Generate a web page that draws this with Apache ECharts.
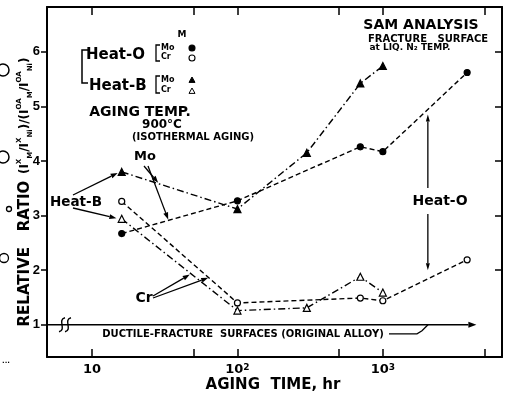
<!DOCTYPE html>
<html>
<head>
<meta charset="utf-8" />
<script src="https://cdn.jsdelivr.net/npm/echarts@6/dist/echarts.min.js"></script>
<style>
  html, body { margin: 0; padding: 0; background: #fff; }
  #chart { width: 506px; height: 394px; }
</style>
</head>
<body>
<div id="chart"></div>
<script>
// 时效时间 (hr)
const hoursHeatO = [16, 100, 700, 1000, 3800]
const hoursHeatB = [16, 100, 300, 700, 1000]
// 相对比值 (SAM)
const moHeatO = [2.67, 3.27, 4.26, 4.17, 5.62]
const crHeatO = [3.26, 1.40, 1.49, 1.44, 2.19]
const moHeatB = [3.80, 3.12, 4.15, 5.42, 5.74]
const crHeatB = [2.94, 1.26, 1.31, 1.88, 1.59]
// 坐标轴刻度
const xTickHours = [10, 50, 100, 500, 1000, 5000]
const xLabelHours = [10, 100, 1000]
const yTicks = [1, 2, 3, 4, 5, 6]
const yTicksRight = [2, 3, 4, 5, 6]
const xRange = [4.9, 6600]
const yRange = [0.41, 6.82]
const ductileLevel = 1

const FONT = 'DejaVu Sans'
const log = Math.log10
const DASH = [5, 3]
const DASH_DOT = [7, 3, 1.5, 3]

const chart = echarts.init(document.getElementById('chart'))

const toPts = (hours, vals) => hours.map((h, i) => [log(h), vals[i]])

function makeSeries(name, hours, vals, symbol, filled, dash) {
  return {
    name,
    type: 'line',
    data: toPts(hours, vals),
    symbol,
    symbolSize: symbol === 'triangle' ? 7 : 6,
    lineStyle: { color: '#000', width: 1.4, type: dash },
    itemStyle: { color: filled ? '#000' : '#fff', borderColor: '#000', borderWidth: 1.2 },
    z: 3,
  }
}

const frameLine = { show: true, onZero: false, lineStyle: { color: '#000', width: 2 } }

chart.setOption({
  animation: false,
  backgroundColor: '#fff',
  grid: { left: 47, right: 4, top: 7, bottom: 37 },
  xAxis: [
    {
      type: 'value',
      position: 'bottom',
      min: log(xRange[0]),
      max: log(xRange[1]),
      axisLine: frameLine,
      axisTick: { show: true, inside: true, length: 8, customValues: xTickHours.map(log), lineStyle: { color: '#000', width: 1.5 } },
      axisLabel: {
        customValues: xLabelHours.map(log),
        formatter: (v) => {
          const e = Math.round(v)
          return e === 1 ? '10' : '10{s|' + e + '}'
        },
        color: '#000',
        fontFamily: FONT,
        fontWeight: 'bold',
        fontSize: 13,
        margin: 6,
        rich: { s: { fontSize: 9, fontWeight: 'bold', fontFamily: FONT, color: '#000', verticalAlign: 'top', lineHeight: 8 } },
      },
      splitLine: { show: false },
    },
    {
      type: 'value',
      position: 'top',
      min: log(xRange[0]),
      max: log(xRange[1]),
      axisLine: frameLine,
      axisTick: { show: true, inside: true, length: 8, customValues: xTickHours.map(log), lineStyle: { color: '#000', width: 1.5 } },
      axisLabel: { show: false },
      splitLine: { show: false },
    },
  ],
  yAxis: [
    {
      type: 'value',
      position: 'left',
      min: yRange[0],
      max: yRange[1],
      axisLine: frameLine,
      axisTick: { show: true, inside: false, length: 6, customValues: yTicks, lineStyle: { color: '#000', width: 1.5 } },
      axisLabel: { customValues: yTicks, color: '#000', fontFamily: 'Liberation Sans', fontWeight: 'bold', fontSize: 13, margin: 7 },
      splitLine: { show: false },
    },
    {
      type: 'value',
      position: 'right',
      min: yRange[0],
      max: yRange[1],
      axisLine: frameLine,
      axisTick: { show: true, inside: true, length: 7, customValues: yTicksRight, lineStyle: { color: '#000', width: 1.5 } },
      axisLabel: { show: false },
      splitLine: { show: false },
    },
  ],
  series: [
    makeSeries('Heat-O Mo', hoursHeatO, moHeatO, 'circle', true, DASH),
    makeSeries('Heat-O Cr', hoursHeatO, crHeatO, 'circle', false, DASH),
    makeSeries('Heat-B Mo', hoursHeatB, moHeatB, 'triangle', true, DASH_DOT),
    makeSeries('Heat-B Cr', hoursHeatB, crHeatB, 'triangle', false, DASH_DOT),
  ],
})

// 数据坐标 -> 像素
const P = (h, r) => chart.convertToPixel({ xAxisIndex: 0, yAxisIndex: 0 }, [log(h), r])

const ink = '#000'
function txt(x, y, text, size, extra) {
  return {
    type: 'text', x, y, silent: true,
    style: Object.assign({ text, fill: ink, fontFamily: FONT, fontWeight: 'bold', fontSize: size, align: 'center', verticalAlign: 'middle' }, extra || {}),
  }
}
function arrow(a, b, head, half, width) {
  head = head || 7
  half = half || 2.5
  const dx = b[0] - a[0], dy = b[1] - a[1]
  const len = Math.hypot(dx, dy)
  const ux = dx / len, uy = dy / len
  const bx = b[0] - ux * head, by = b[1] - uy * head
  return [
    { type: 'line', silent: true, shape: { x1: a[0], y1: a[1], x2: bx, y2: by }, style: { stroke: ink, lineWidth: width || 1.3 } },
    { type: 'polygon', silent: true, shape: { points: [b, [bx - uy * half, by + ux * half], [bx + uy * half, by - ux * half]] }, style: { fill: ink } },
  ]
}
function poly(points, w) {
  return { type: 'polyline', silent: true, shape: { points }, style: { stroke: ink, lineWidth: w || 1.3, fill: null } }
}
function dot(x, y, r, filled) {
  return { type: 'circle', silent: true, shape: { cx: x, cy: y, r }, style: { fill: filled ? ink : '#fff', stroke: ink, lineWidth: 1.1 } }
}
function tri(x, y, s, filled) {
  return { type: 'polygon', silent: true, shape: { points: [[x, y - s], [x - s, y + s * 0.8], [x + s, y + s * 0.8]] }, style: { fill: filled ? ink : '#fff', stroke: ink, lineWidth: 1 } }
}
function breakMark(x, y) {
  return { type: 'bezierCurve', silent: true, shape: { x1: x + 3, y1: y - 7, cpx1: x - 5, cpy1: y - 5, cpx2: x + 5, cpy2: y + 5, x2: x - 3, y2: y + 7 }, style: { stroke: ink, lineWidth: 1.4, fill: null } }
}

const base0 = P(xRange[0], ductileLevel)
const base1 = P(4400, ductileLevel)
const heatOx = P(2040, 1)[0]

const graphics = [
  // 延性断口基线
  ...arrow(base0, base1, 8, 3, 1.6),
  breakMark(base0[0] + 15, base0[1]),
  breakMark(base0[0] + 21, base0[1]),
  txt(243, base0[1] + 10, 'DUCTILE-FRACTURE  SURFACES (ORIGINAL ALLOY)', 10),
  poly([[389, base0[1] + 9], [417, base0[1] + 9], [422, base0[1] + 6], [428, base0[1]]]),

  // 图例
  txt(182, 35, 'M', 9),
  poly([[88, 50], [82, 50], [82, 83], [88, 83]], 1.5),
  txt(86, 55, 'Heat-O', 15, { align: 'left' }),
  txt(89, 86, 'Heat-B', 15, { align: 'left' }),
  poly([[160, 45], [156, 45], [156, 61], [160, 61]], 1.3),
  txt(161, 48, 'Mo', 8, { align: 'left' }),
  txt(161, 57, 'Cr', 8, { align: 'left' }),
  dot(192, 48, 3, true),
  dot(192, 58, 3, false),
  poly([[160, 76], [156, 76], [156, 93], [160, 93]], 1.3),
  txt(161, 80, 'Mo', 8, { align: 'left' }),
  txt(161, 90, 'Cr', 8, { align: 'left' }),
  tri(192, 80, 3, true),
  tri(192, 91, 3, false),

  // 时效条件
  txt(140, 112, 'AGING TEMP.', 14),
  txt(162, 125, '900°C', 12),
  txt(193, 137, '(ISOTHERMAL AGING)', 10),

  // SAM 分析
  txt(421, 25, 'SAM ANALYSIS', 14),
  txt(428, 39, 'FRACTURE   SURFACE', 10),
  txt(410, 48, 'at LIQ. N₂ TEMP.', 9),

  // 标注
  txt(145, 157, 'Mo', 13),
  ...arrow([144, 166], P(28.5, 3.60), 7, 2.5),
  ...arrow([148, 166], P(33.4, 2.93), 7, 2.5),
  txt(76, 202, 'Heat-B', 13.5),
  ...arrow([73, 195], P(15, 3.78), 7, 2.5),
  ...arrow([73, 208], P(14.7, 2.95), 7, 2.5),
  txt(144, 298, 'Cr', 14),
  ...arrow([153, 296], P(47, 1.92), 7, 2.5),
  ...arrow([153, 298], P(63, 1.86), 7, 2.5),
  txt(440, 201, 'Heat-O', 14),
  ...arrow([heatOx, 188], P(2040, 4.85), 7, 2),
  ...arrow([heatOx, 214], P(2040, 2.0), 7, 2),

  // 坐标轴标题
  txt(273, 385, 'AGING  TIME, hr', 15),
  {
    type: 'text', x: 25, y: 192, rotation: Math.PI / 2, silent: true,
    style: {
      text: '{t|RELATIVE   RATIO}  {f|(I}{s|X}{b|M}{f|/I}{s|X}{b|Ni}{f|)/(I}{s|OA}{b|M}{f|/I}{s|OA}{b|Ni}{f|)}',
      align: 'center', verticalAlign: 'middle', fill: ink,
      rich: {
        t: { fontFamily: FONT, fontWeight: 'bold', fontSize: 15, lineHeight: 18, fill: ink },
        f: { fontFamily: FONT, fontWeight: 'bold', fontSize: 12, lineHeight: 18, fill: ink },
        s: { fontFamily: FONT, fontWeight: 'bold', fontSize: 7, lineHeight: 9, verticalAlign: 'top', fill: ink },
        b: { fontFamily: FONT, fontWeight: 'bold', fontSize: 7, lineHeight: 9, verticalAlign: 'bottom', fill: ink },
      },
    },
  },

  // 扫描边缘残迹
  { type: 'circle', silent: true, shape: { cx: 3, cy: 70, r: 6 }, style: { fill: null, stroke: ink, lineWidth: 1.5 } },
  { type: 'circle', silent: true, shape: { cx: 3, cy: 157, r: 6 }, style: { fill: null, stroke: ink, lineWidth: 1.5 } },
  { type: 'circle', silent: true, shape: { cx: 9, cy: 209, r: 2.5 }, style: { fill: null, stroke: ink, lineWidth: 1.3 } },
  { type: 'circle', silent: true, shape: { cx: 4, cy: 258, r: 4.5 }, style: { fill: null, stroke: ink, lineWidth: 1.3 } },
  txt(6, 361, '...', 7),
]

chart.setOption({ graphic: graphics })
</script>
</body>
</html>
